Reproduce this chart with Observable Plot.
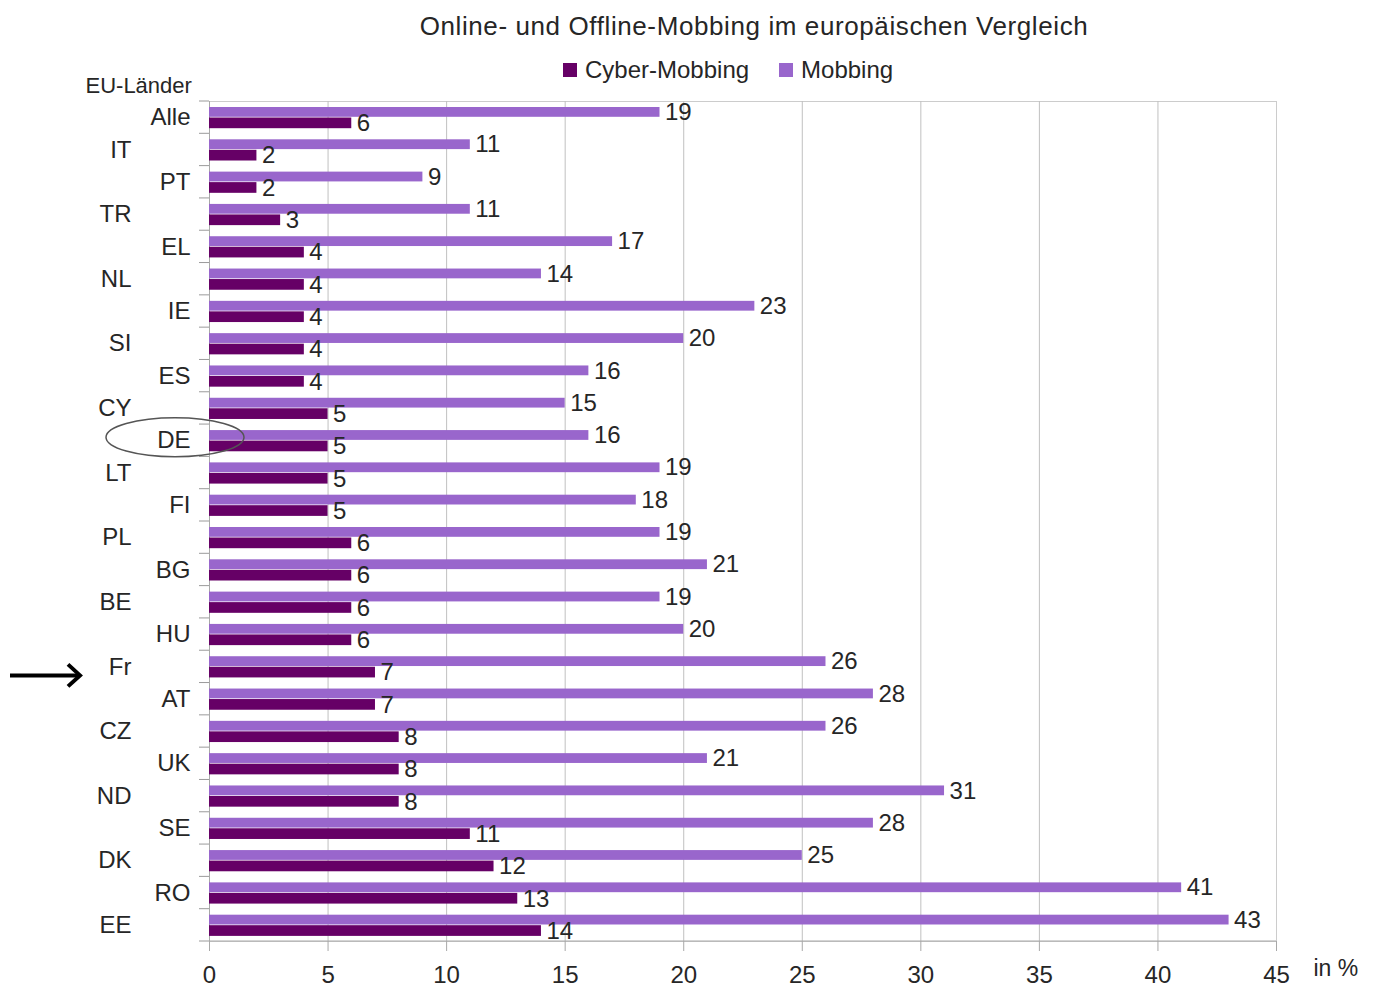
<!DOCTYPE html>
<html><head><meta charset="utf-8">
<script src="https://cdn.jsdelivr.net/npm/d3@7"></script>
<script src="https://cdn.jsdelivr.net/npm/@observablehq/plot@0.6"></script>
<style>
html,body{margin:0;padding:0;background:#fff;overflow:hidden;}
#wrap{position:relative;width:1373px;height:986px;font-family:"Liberation Sans",Arial,sans-serif;color:#262626;}
#title{position:absolute;left:754px;top:11px;transform:translateX(-50%);white-space:nowrap;font-size:26px;line-height:30px;letter-spacing:0.6px;z-index:2;}
#legend{position:absolute;left:563px;top:56px;font-size:24px;line-height:28px;display:flex;align-items:center;white-space:nowrap;z-index:2;}
.sw{display:inline-block;width:14px;height:14px;margin-right:8px;}
#chart{position:absolute;left:0;top:60px;z-index:1;}
</style></head>
<body><div id="wrap">
<div id="title">Online- und Offline-Mobbing im europäischen Vergleich</div>
<div id="legend"><span class="sw" style="background:#660066"></span>Cyber-Mobbing<span class="sw" style="background:#9966cc;margin-left:30px"></span>Mobbing</div>
<div id="chart"></div>
</div>
<script>
const countries = ["Alle","IT","PT","TR","EL","NL","IE","SI","ES","CY","DE","LT","FI","PL","BG","BE","HU","Fr","AT","CZ","UK","ND","SE","DK","RO","EE"];
const cyber   = [6,2,2,3,4,4,4,4,4,5,5,5,5,6,6,6,6,7,7,8,8,8,11,12,13,14];
const mobbing = [19,11,9,11,17,14,23,20,16,15,16,19,18,19,21,19,20,26,28,26,21,31,28,25,41,43];
const xTicks = [0,5,10,15,20,25,30,35,40,45];
const seriesNames = ["Cyber-Mobbing","Mobbing"];
const colors = {cyber:"#660066", mobbing:"#9966cc"};

const rows = countries.map((c,i)=>({country:c, cyber:cyber[i], mobbing:mobbing[i]}));
const W=1373, H=926, mL=209, mR=97, mT=41, mB=45;
const bw = (H-mT-mB)/countries.length;
const even = countries.filter((d,i)=>i%2===0);
const odd = countries.filter((d,i)=>i%2===1);

const annotations = (index, scales) => {
  const g = d3.create("svg:g");
  const y = scales.y;
  const bounds = countries.map(c=>y(c)).concat([y(countries[countries.length-1])+bw]);
  g.selectAll("line.b").data(bounds).join("line")
    .attr("x1", mL-10).attr("x2", mL).attr("y1", d=>d).attr("y2", d=>d)
    .attr("stroke","#9a9a9a");
  const yB = H-mB;
  g.append("line").attr("x1",mL).attr("x2",W-mR).attr("y1",yB).attr("y2",yB).attr("stroke","#a8a8a8");
  const yDE = y("DE") + bw/2 - 3;
  g.append("ellipse").attr("cx", mL-34).attr("cy", yDE).attr("rx",69).attr("ry",19.5)
    .attr("fill","none").attr("stroke","#555").attr("stroke-width",1.5);
  const yFr = y("Fr") + bw/2 + 9;
  g.append("line").attr("x1",10).attr("x2",78).attr("y1",yFr).attr("y2",yFr)
    .attr("stroke","#000").attr("stroke-width",4);
  g.append("polyline").attr("points", `68,${yFr-11} 80,${yFr} 68,${yFr+11}`)
    .attr("fill","none").attr("stroke","#000").attr("stroke-width",4);
  return g.node();
};

const plot = Plot.plot({
  width: W, height: H,
  marginLeft: mL, marginRight: mR, marginTop: mT, marginBottom: mB,
  style: {fontFamily: "'Liberation Sans', Arial, sans-serif", fontSize: "24px", color: "#262626", background: "white", overflow: "visible"},
  x: {domain: [0,45], label: null},
  y: {domain: countries, padding: 0, round: false, label: null},
  marks: [
    Plot.frame({stroke: "#cccccc"}),
    Plot.gridX(xTicks.slice(1,-1), {stroke: "#c0c0c0", strokeOpacity: 1}),
    Plot.ruleX([0], {stroke: "#a8a8a8"}),
    Plot.barX(rows, {y: "country", x: "mobbing", fill: colors.mobbing, insetTop: 6, insetBottom: bw-15.8}),
    Plot.barX(rows, {y: "country", x: "cyber", fill: colors.cyber, insetTop: 16.5, insetBottom: bw-27.2}),
    Plot.text(rows, {y: "country", x: "mobbing", text: d=>String(d.mobbing), textAnchor: "start", dx: 5, dy: 10.9-bw/2, fontSize: 24, fill: "#262626"}),
    Plot.text(rows, {y: "country", x: "cyber", text: d=>String(d.cyber), textAnchor: "start", dx: 5, dy: 22-bw/2, fontSize: 24, fill: "#262626"}),
    Plot.axisY(even, {tickSize: 0, tickPadding: 19, fontSize: 24, fill: "#262626", label: null}),
    Plot.axisY(odd, {tickSize: 0, tickPadding: 78, fontSize: 24, fill: "#262626", label: null}),
    Plot.axisX(xTicks, {tickSize: 10, tickPadding: 14, fontSize: 24, stroke: "#a8a8a8", fill: "#262626", label: null}),
    Plot.text(["EU-Länder"], {frameAnchor: "top-left", lineAnchor: "middle", text: d=>d, textAnchor: "start", dx: -124, dy: -16, fontSize: 22, fill: "#262626"}),
    Plot.text(["in %"], {frameAnchor: "bottom-right", lineAnchor: "middle", text: d=>d, textAnchor: "start", dx: 37, dy: 27, fontSize: 23, fill: "#262626"}),
    annotations
  ]
});
document.getElementById("chart").append(plot);
</script>
</body></html>
